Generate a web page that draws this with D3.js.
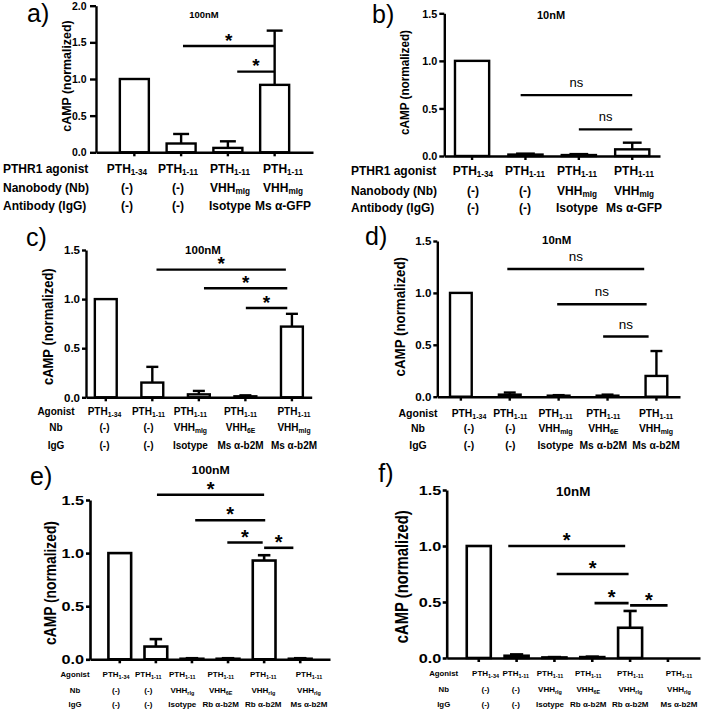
<!DOCTYPE html>
<html><head><meta charset="utf-8">
<script src="https://cdn.jsdelivr.net/npm/d3@7/dist/d3.min.js"></script>
<style>
body{margin:0;background:#fff}
svg{display:block}
text{font-family:"Liberation Sans",Arial,sans-serif;fill:#000}
</style>
</head><body>
<svg id="chart" width="702" height="709"></svg>
<script>
// ---------------- DATA ----------------
const yTicks20 = [0, 0.5, 1.0, 1.5, 2.0];
const yTicks15 = [0, 0.5, 1.0, 1.5];
const yLabel = "cAMP (normalized)";

// panel a (100nM)
const aRows = ["PTHR1 agonist", "Nanobody (Nb)", "Antibody (IgG)"];
const aAgonist = ["PTH|1-34", "PTH|1-11", "PTH|1-11", "PTH|1-11"];
const aNb = ["(-)", "(-)", "VHH|mIg", "VHH|mIg"];
const aIgG = ["(-)", "(-)", "Isotype", "Ms α-GFP"];
const aValues = [1.0, 0.12, 0.06, 0.92];
const aErrors = [0, 0.13, 0.09, 0.74];
const aSig = [[1.04, 3, 1.45, "*"], [2.2, 3, 1.10, "*"]];

// panel b (10nM)
const bRows = ["PTHR1 agonist", "Nanobody (Nb)", "Antibody (IgG)"];
const bAgonist = ["PTH|1-34", "PTH|1-11", "PTH|1-11", "PTH|1-11"];
const bNb = ["(-)", "(-)", "VHH|mIg", "VHH|mIg"];
const bIgG = ["(-)", "(-)", "Isotype", "Ms α-GFP"];
const bValues = [1.0, 0.015, 0.01, 0.07];
const bErrors = [0, 0.01, 0.01, 0.07];
const bSig = [[0.91, 3, 0.64, "ns"], [2.0, 3, 0.28, "ns"]];

// panel c (100nM)
const cRows = ["Agonist", "Nb", "IgG"];
const cAgonist = ["PTH|1-34", "PTH|1-11", "PTH|1-11", "PTH|1-11", "PTH|1-11"];
const cNb = ["(-)", "(-)", "VHH|mIg", "VHH|6E", "VHH|mIg"];
const cIgG = ["(-)", "(-)", "Isotype", "Ms α-b2M", "Ms α-b2M"];
const cValues = [1.0, 0.15, 0.03, 0.01, 0.72];
const cErrors = [0, 0.16, 0.035, 0.01, 0.13];
const cSig = [[1.09, 3.87, 1.30, "*"], [2.11, 3.9, 1.11, "*"], [3.01, 3.9, 0.91, "*"]];

// panel d (10nM)
const dRows = ["Agonist", "Nb", "IgG"];
const dAgonist = ["PTH|1-34", "PTH|1-11", "PTH|1-11", "PTH|1-11", "PTH|1-11"];
const dNb = ["(-)", "(-)", "VHH|mIg", "VHH|6E", "VHH|mIg"];
const dIgG = ["(-)", "(-)", "Isotype", "Ms α-b2M", "Ms α-b2M"];
const dValues = [1.0, 0.02, 0.01, 0.01, 0.20];
const dErrors = [0, 0.02, 0.005, 0.01, 0.24];
const dSig = [[0.95, 3.75, 1.23, "ns"], [1.97, 3.8, 0.89, "ns"], [2.91, 3.84, 0.58, "ns"]];

// panel e (100nM)
const eRows = ["Agonist", "Nb", "IgG"];
const eAgonist = ["PTH|1-34", "PTH|1-11", "PTH|1-11", "PTH|1-11", "PTH|1-11", "PTH|1-11"];
const eNb = ["(-)", "(-)", "VHH|rIg", "VHH|6E", "VHH|rIg", "VHH|rIg"];
const eIgG = ["(-)", "(-)", "Isotype", "Rb α-b2M", "Rb α-b2M", "Ms α-b2M"];
const eValues = [1.0, 0.12, 0.005, 0.005, 0.93, 0.005];
const eErrors = [0, 0.07, 0.005, 0.005, 0.05, 0.005];
const eSig = [[1.03, 4.0, 1.55, "*"], [2.09, 4.03, 1.31, "*"], [2.98, 3.96, 1.10, "*"], [4.0, 4.81, 1.05, "*"]];

// panel f (10nM)
const fRows = ["Agonist", "Nb", "IgG"];
const fAgonist = ["PTH|1-34", "PTH|1-11", "PTH|1-11", "PTH|1-11", "PTH|1-11", "PTH|1-11"];
const fNb = ["(-)", "(-)", "VHH|rIg", "VHH|6E", "VHH|rIg", "VHH|rIg"];
const fIgG = ["(-)", "(-)", "Isotype", "Rb α-b2M", "Rb α-b2M", "Ms α-b2M"];
const fValues = [1.0, 0.02, 0.005, 0.008, 0.27, 0.0];
const fErrors = [0, 0.012, 0.003, 0.004, 0.15, 0.0];
const fSig = [[0.78, 3.87, 1.0, "*"], [2.06, 3.96, 0.75, "*"], [3.06, 3.96, 0.49, "*"], [4.0, 4.99, 0.47, "*"]];

// ---------------- LAYOUT ----------------
const panels = [
  {letter:"a)", title:"100nM", rows:aRows, cols:[aAgonist,aNb,aIgG], values:aValues, errors:aErrors, sig:aSig, ticks:yTicks20, yMax:2.0,
   xL:96, xR:313, y0:152.3, yTop:5.7, pi:0.38, po:0.51, labX:[127,178,230,283], rowY:[173,192,210], rowX:3, rowAnchor:"start",
   rowFs:12, colFs:12, tickFs:10, tickSize:6, tickPad:2.5, ylFs:12.4, ylX:66.7, ylY:76, tX:204, tY:15, tFs:9, lX:27, lY:22, sx:1.05, sw:2.4, sigFs:19},
  {letter:"b)", title:"10nM", rows:bRows, cols:[bAgonist,bNb,bIgG], values:bValues, errors:bErrors, sig:bSig, ticks:yTicks15, yMax:1.5,
   xL:444.3, xR:660, y0:156, yTop:13.3, pi:0.36, po:0.2, labX:[473,525,577,634], rowY:[175,195,212], rowX:351, rowAnchor:"start",
   rowFs:12, colFs:12, tickFs:10.3, tickSize:5, tickPad:1, ylFs:11.7, ylX:405, ylY:82.5, tX:551, tY:15, tFs:10.5, lX:372, lY:22.5, sx:1.05, sw:2.4, sigFs:13},
  {letter:"c)", title:"100nM", rows:cRows, cols:[cAgonist,cNb,cIgG], values:cValues, errors:cErrors, sig:cSig, ticks:yTicks15, yMax:1.5,
   xL:86, xR:311.7, y0:397.3, yTop:250, pi:0.53, po:0.19, labX:[104.5,148.5,190.4,240.5,294], rowY:[415,431,448.5], rowX:56, rowAnchor:"middle",
   rowFs:10, colFs:10, tickFs:10.5, tickSize:4, tickPad:1, ylFs:13, ylX:48.3, ylY:326.7, tX:203, tY:250, tFs:10.5, lX:26, lY:245.5, sx:1.1, sw:2.4, sigFs:19},
  {letter:"d)", title:"10nM", rows:dRows, cols:[dAgonist,dNb,dIgG], values:dValues, errors:dErrors, sig:dSig, ticks:yTicks15, yMax:1.5,
   xL:437.3, xR:680, y0:396.7, yTop:241, pi:0.556, po:0.26, labX:[469,510.3,555.5,603.3,656], rowY:[416.5,432,448.5], rowX:418, rowAnchor:"middle",
   rowFs:10.5, colFs:10.3, tickFs:10.5, tickSize:4, tickPad:1, ylFs:13.3, ylX:400, ylY:316.7, tX:556.7, tY:240, tFs:10.4, lX:365, lY:245, sx:1.1, sw:2.4, sigFs:13.5},
  {letter:"e)", title:"100nM", rows:eRows, cols:[eAgonist,eNb,eIgG], values:eValues, errors:eErrors, sig:eSig, ticks:yTicks15, yMax:1.5,
   xL:90, xR:330, y0:659.3, yTop:500, pi:0.37, po:0.51, labX:[116,148.3,182.3,220.7,263.3,309], rowY:[677,693,707], rowX:75, rowAnchor:"middle",
   rowFs:7.8, colFs:8, tickFs:13, tickSize:4, tickPad:1, ylFs:13.8, ylX:50, ylY:583, tX:210.7, tY:470, tFs:11, lX:30, lY:485, sx:1.25, tsx:1.12, sw:2.6, sigFs:20},
  {letter:"f)", title:"10nM", rows:fRows, cols:[fAgonist,fNb,fIgG], values:fValues, errors:fErrors, sig:fSig, ticks:yTicks15, yMax:1.5,
   xL:446.7, xR:700, y0:658, yTop:490, pi:0.365, po:0.53, labX:[485.5,515.8,550,588.3,630.3,679], rowY:[676,692,707], rowX:443.7, rowAnchor:"middle",
   rowFs:7.8, colFs:8, tickFs:13, tickSize:4, tickPad:0.5, ylFs:14.8, ylX:401.7, ylY:576.7, tX:573.3, tY:491.7, tFs:12, lX:378.3, lY:481.7, sx:1.25, tsx:1.12, sw:2.6, sigFs:20}
];

const svg = d3.select("#chart");

function label(g, x, y, str, fs, anchor, sx, weight, extra) {
  const t = g.append("text")
    .attr("transform", `translate(${x},${y}) scale(${sx},1)` + (extra || ""))
    .attr("text-anchor", anchor)
    .attr("font-size", fs)
    .style("font-weight", weight || "bold");
  const parts = str.split("|");
  t.append("tspan").text(parts[0]);
  if (parts.length > 1) {
    t.append("tspan").attr("font-size", fs * 0.68).attr("dy", fs * 0.2).text(parts[1]);
  }
  return t;
}

panels.forEach(p => {
  const g = svg.append("g");
  const n = p.values.length;
  const y = d3.scaleLinear().domain([0, p.yMax]).range([p.y0, p.yTop]);
  const x = d3.scaleBand().domain(d3.range(n)).range([p.xL, p.xR]).paddingInner(p.pi).paddingOuter(p.po);
  const fx = f => x(0) + x.bandwidth() / 2 + f * x.step();

  // bars
  g.selectAll("rect.bar").data(p.values).join("rect")
    .attr("x", (d, i) => x(i)).attr("y", d => y(d))
    .attr("width", x.bandwidth()).attr("height", d => p.y0 - y(d))
    .attr("fill", "#fff").attr("stroke", "#000").attr("stroke-width", p.sw);

  // error bars (upper only)
  const cap = x.bandwidth() * 0.55;
  p.values.forEach((v, i) => {
    const e = p.errors[i];
    if (!(e > 0)) return;
    const cx = x(i) + x.bandwidth() / 2;
    g.append("line").attr("x1", cx).attr("x2", cx).attr("y1", y(v)).attr("y2", y(v + e))
      .attr("stroke", "#000").attr("stroke-width", p.sw);
    g.append("line").attr("x1", cx - cap / 2).attr("x2", cx + cap / 2).attr("y1", y(v + e)).attr("y2", y(v + e))
      .attr("stroke", "#000").attr("stroke-width", p.sw);
  });

  // y axis
  const ya = g.append("g").attr("transform", `translate(${p.xL},0)`)
    .call(d3.axisLeft(y).tickValues(p.ticks).tickFormat(d3.format(".1f")).tickSize(p.tickSize).tickSizeOuter(0).tickPadding(p.tickPad));
  ya.select(".domain").attr("stroke-width", p.sw);
  ya.selectAll(".tick line").attr("stroke-width", p.sw);
  ya.selectAll(".tick text")
    .attr("font-family", null).attr("font-size", p.tickFs)
    .style("font-weight", "bold")
    .attr("x", -(p.tickSize + p.tickPad + 1) / p.sx)
    .attr("transform", `scale(${p.sx},1)`)
    .attr("dy", "0.36em");

  // x axis
  const xa = g.append("g").attr("transform", `translate(0,${p.y0})`)
    .call(d3.axisBottom(x).tickFormat("").tickSize(4).tickSizeOuter(0));
  xa.select(".domain").attr("stroke-width", p.sw);
  xa.selectAll(".tick line").attr("stroke-width", p.sw);

  // significance bars
  p.sig.forEach(([a, b, yv, lab]) => {
    const yy = y(yv);
    g.append("line").attr("x1", fx(a)).attr("x2", fx(b)).attr("y1", yy).attr("y2", yy)
      .attr("stroke", "#000").attr("stroke-width", p.sw);
    const mx = (fx(a) + fx(b)) / 2;
    if (lab === "*") {
      label(g, mx, yy - 10 + 0.56 * p.sigFs, lab, p.sigFs, "middle", 1, "bold");
    } else {
      label(g, mx, yy - 11.5 + 0.26 * p.sigFs, lab, p.sigFs, "middle", 1, "normal");
    }
  });

  // title
  label(g, p.tX, p.tY + 0.36 * p.tFs, p.title, p.tFs, "middle", p.tsx || p.sx, "bold");

  // panel letter
  label(g, p.lX, p.lY, p.letter, 25, "start", 1, "normal");

  // y label
  label(g, p.ylX + 0.36 * p.ylFs * p.sx, p.ylY, yLabel, p.ylFs, "middle", p.sx, "bold", " rotate(-90)");

  // row labels & column labels
  p.rows.forEach((r, ri) => {
    label(g, p.rowX, p.rowY[ri], r, p.rowFs, p.rowAnchor, 1, "bold");
    p.cols[ri].forEach((c, ci) => {
      label(g, p.labX[ci], p.rowY[ri], c, p.colFs, "middle", 1, "bold");
    });
  });
});
</script>
</body></html>
